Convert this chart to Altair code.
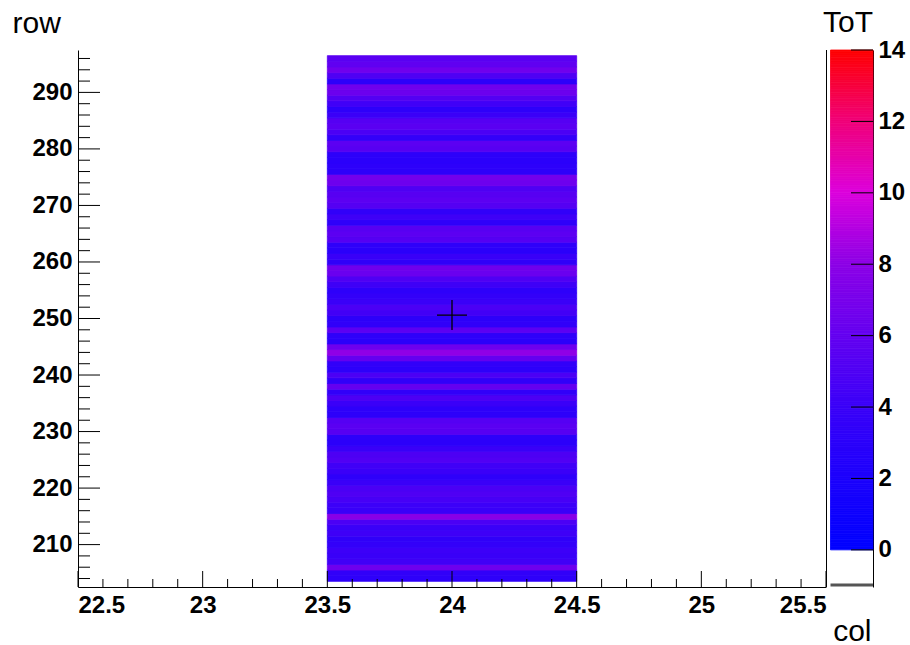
import altair as alt
import numpy as np
import pandas as pd

# ---- histogram content: mean ToT per pixel row, single column ----
col = 24
rows = list(range(204, 297))
tot = [
    3.2, 3.4, 6.5, 4.3, 3.9, 4.1, 3.5, 3.3, 4.2, 4.0,   # 204-213
    4.8, 7.8, 3.9, 4.1, 4.6, 5.0, 4.8, 4.0, 3.2, 4.0,   # 214-223
    4.3, 5.1, 4.9, 3.9, 3.0, 3.1, 5.4, 5.5, 5.3, 3.1,   # 224-233
    3.2, 4.0, 4.9, 3.4, 6.0, 3.3, 4.8, 3.1, 3.4, 6.0,   # 234-243
    8.1, 6.5, 3.0, 3.2, 5.6, 3.3, 3.1, 4.4, 4.8, 4.0,   # 244-253
    3.5, 3.2, 4.2, 5.0, 6.3, 6.6, 3.3, 3.9, 3.0, 3.2,   # 254-263
    5.3, 5.6, 5.4, 3.2, 4.2, 3.4, 5.3, 5.6, 5.4, 5.0,   # 264-273
    6.5, 6.8, 3.2, 3.1, 3.0, 3.1, 5.4, 5.6, 3.5, 4.8,   # 274-283
    5.5, 5.3, 4.0, 3.2, 4.3, 5.2, 6.4, 6.6, 3.1, 5.0,   # 284-293
    6.6, 5.8, 5.5,                                      # 294-296
]
mean_col, mean_row = 24.0, 250.6

# axis ranges and tick positions
x_range = [22.5, 25.5]
y_range = [202.5, 297.5]
z_range = [-1.04, 14]
x_major = [22.5, 23, 23.5, 24, 24.5, 25, 25.5]
x_minor = [round(v, 1) for v in np.arange(22.6, 25.5, 0.1) if round(v * 2, 6) % 1 != 0]
y_major = list(range(210, 300, 10))
y_minor = [v for v in range(204, 298, 2) if v % 10 != 0]
z_major = list(range(0, 16, 2))

# palette: blue -> violet -> magenta -> red
pal_stops = [0, 2, 4, 6, 8, 10, 12, 14]
pal_colors = ["#0000ff", "#1c00fc", "#3a00f8", "#6400f0", "#8c00e6",
              "#dc00dc", "#f00078", "#ff0000"]

W, H = 748, 537
FONT = "Liberation Sans"

hist = pd.DataFrame({
    "x0": [col - 0.5] * len(rows), "x1": [col + 0.5] * len(rows),
    "y0": [r - 0.5 for r in rows], "y1": [r + 0.5 for r in rows],
    "row": rows, "tot": tot,
})

xs = alt.Scale(domain=x_range, nice=False, zero=False)
ys = alt.Scale(domain=y_range, nice=False, zero=False)
zs = alt.Scale(domain=z_range, nice=False, zero=False)
cs = alt.Scale(domain=pal_stops, range=pal_colors, interpolate="rgb")

label_style = dict(labelFont=FONT, labelFontWeight="bold", labelFontSize=24,
                   labelColor="black", domainColor="black", domainWidth=1,
                   grid=False, ticks=False)
title_style = dict(titleFont=FONT, titleFontWeight="normal", titleFontSize=30,
                   titleColor="black", titleBaseline="alphabetic", titleAngle=0)

# one axis definition per scale, shared by every layer on that scale
x_axis = alt.Axis(values=x_major, format="~g", labelPadding=6,
                  title="col", titleX=793, titleY=53, titleAlign="right",
                  **label_style, **title_style)
y_axis = alt.Axis(values=y_major, labelPadding=6,
                  title="row", titleX=-66, titleY=-18, titleAlign="left",
                  **label_style, **title_style)
z_axis = alt.Axis(orient="right", offset=47, values=z_major, labelPadding=5,
                  title="", **label_style)

heat = alt.Chart(hist).mark_rect(strokeWidth=0.8).encode(
    x=alt.X("x0:Q", scale=xs, axis=x_axis, title="col"),
    x2="x1:Q",
    y=alt.Y("y0:Q", scale=ys, axis=y_axis, title="row"),
    y2="y1:Q",
    color=alt.Color("tot:Q", scale=cs, legend=None),
    stroke=alt.Color("tot:Q", scale=cs, legend=None),
)

# inward ticks on the frame
xmaj = alt.Chart(pd.DataFrame({"v": x_major})).mark_rule(color="black").encode(
    x=alt.X("v:Q", scale=xs, axis=x_axis, title="col"), y=alt.value(H), y2=alt.value(H - 16))
xmin = alt.Chart(pd.DataFrame({"v": x_minor})).mark_rule(color="black").encode(
    x=alt.X("v:Q", scale=xs, axis=x_axis, title="col"), y=alt.value(H), y2=alt.value(H - 8))
ymaj = alt.Chart(pd.DataFrame({"v": y_major})).mark_rule(color="black").encode(
    y=alt.Y("v:Q", scale=ys, axis=y_axis, title="row"), x=alt.value(0), x2=alt.value(22))
ymin = alt.Chart(pd.DataFrame({"v": y_minor})).mark_rule(color="black").encode(
    y=alt.Y("v:Q", scale=ys, axis=y_axis, title="row"), x=alt.value(0), x2=alt.value(12))

frame_right = alt.Chart(pd.DataFrame({"v": [x_range[1]]})).mark_rule(
    color="black", xOffset=0.5).encode(
    x=alt.X("v:Q", scale=xs, axis=x_axis, title="col"), y=alt.value(0), y2=alt.value(H))

marker = alt.Chart(pd.DataFrame({"mx": [mean_col], "my": [mean_row]})).mark_point(
    shape="M-1,0L1,0M0,-1L0,1", size=900, filled=False, color="black",
    strokeWidth=1.3, opacity=1,
).encode(x=alt.X("mx:Q", scale=xs, axis=x_axis, title="col"),
         y=alt.Y("my:Q", scale=ys, axis=y_axis, title="row"))

ztitle = alt.Chart(pd.DataFrame({"t": ["ToT"]})).mark_text(
    font=FONT, fontSize=30, align="right", baseline="alphabetic", color="black",
).encode(x=alt.value(795), y=alt.value(-18), text="t:N")

main = alt.layer(heat, xmin, xmaj, ymin, ymaj, frame_right, marker, ztitle)

# colour bar with its own vertical scale
steps = np.arange(0, 14, 0.05)
cbar_df = pd.DataFrame({"v": steps, "v2": np.minimum(steps + 0.05, 14)})
CB0, CB1 = 752.5, 795
cbar = alt.Chart(cbar_df).mark_rect(strokeWidth=0.8).encode(
    y=alt.Y("v:Q", scale=zs, axis=z_axis, title=""),
    y2="v2:Q",
    x=alt.value(CB0), x2=alt.value(CB1),
    color=alt.Color("v:Q", scale=cs, legend=None),
    stroke=alt.Color("v:Q", scale=cs, legend=None),
)
cbar_ticks = alt.Chart(pd.DataFrame({"v": z_major})).mark_rule(color="black").encode(
    y=alt.Y("v:Q", scale=zs, axis=z_axis, title=""), x=alt.value(CB1 - 22), x2=alt.value(CB1))
cbar_under = alt.Chart(pd.DataFrame({"v": [z_range[0]]})).mark_rule(
    color="#555555", strokeWidth=3).encode(
    y=alt.value(H - 2), x=alt.value(CB0), x2=alt.value(CB1))

colorbar = alt.layer(cbar, cbar_ticks, cbar_under)

chart = alt.layer(main, colorbar).resolve_scale(y="independent").properties(
    width=W, height=H,
    padding={"left": 78, "top": 50, "right": 84, "bottom": 58},
    autosize=alt.AutoSizeParams(type="none"),
    background="white",
).configure_view(strokeWidth=0)

chart.save("out.html", embed_options={"renderer": "svg", "actions": False})
